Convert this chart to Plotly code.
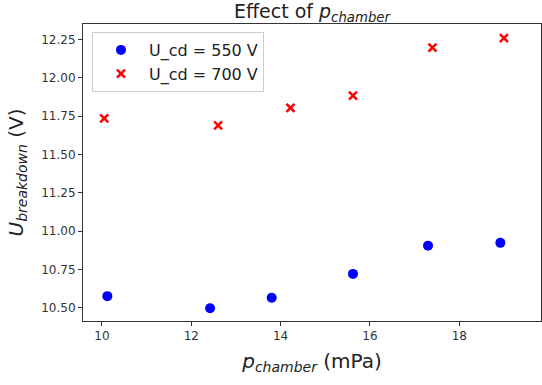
import plotly.graph_objects as go

p_550 = [10.12, 12.42, 13.80, 15.62, 17.30, 18.92]
u_550 = [10.577, 10.498, 10.567, 10.722, 10.906, 10.924]
p_700 = [10.05, 12.60, 14.22, 15.62, 17.40, 19.00]
u_700 = [11.735, 11.690, 11.803, 11.884, 12.196, 12.258]

W, H = 542, 385
L, R, T, B = 83, 1, 24, 64

fig = go.Figure()
fig.add_trace(go.Scatter(x=p_550, y=u_550, mode="markers", name="U_cd = 550 V",
                         marker=dict(symbol="circle", size=10, color="#0000ff", line=dict(width=0))))
fig.add_trace(go.Scatter(x=p_700, y=u_700, mode="markers", name="U_cd = 700 V",
                         marker=dict(symbol="x-thin", size=8, color="#ff0000", line=dict(width=2.5, color="#ff0000"))))

axis_common = dict(showgrid=False, zeroline=False, showline=True, linecolor="#333333", linewidth=1,
                   mirror=True, ticks="outside", ticklen=4, tickcolor="#333333",
                   tickfont=dict(family="DejaVu Sans", size=12, color="#333333"))
fig.update_layout(
    width=W, height=H, margin=dict(l=L, r=R, t=T, b=B),
    paper_bgcolor="white", plot_bgcolor="white",
    font=dict(family="DejaVu Sans", color="#222222"),
    title=dict(text="Effect of <i>p</i><sub><i>chamber</i></sub>", x=(L + (W - R)) / 2 / W, xanchor="center",
               y=1 - 11 / H, yanchor="middle", font=dict(size=19, color="#222222")),
    xaxis=dict(range=[9.575, 19.83], tickvals=[10, 12, 14, 16, 18], ticktext=["10", "12", "14", "16", "18"],
               title=dict(text="<i>p</i><sub><i>chamber</i></sub> (mPa)", font=dict(size=20), standoff=11),
               **axis_common),
    yaxis=dict(range=[10.415, 12.35], tickvals=[10.5, 10.75, 11.0, 11.25, 11.5, 11.75, 12.0, 12.25],
               ticktext=["10.50", "10.75", "11.00", "11.25", "11.50", "11.75", "12.00", "12.25"],
               title=dict(text="<i>U</i><sub><i>breakdown</i></sub> (V)", font=dict(size=20), standoff=12),
               **axis_common),
    legend=dict(x=(92 - L) / (W - L - R), y=1 - (32 - T) / (H - T - B), xanchor="left", yanchor="top",
                bgcolor="rgba(255,255,255,0.8)", bordercolor="#cccccc", borderwidth=1,
                font=dict(size=16, color="#222222"), itemwidth=46),
    showlegend=True,
)

fig.write_html("out.html")
